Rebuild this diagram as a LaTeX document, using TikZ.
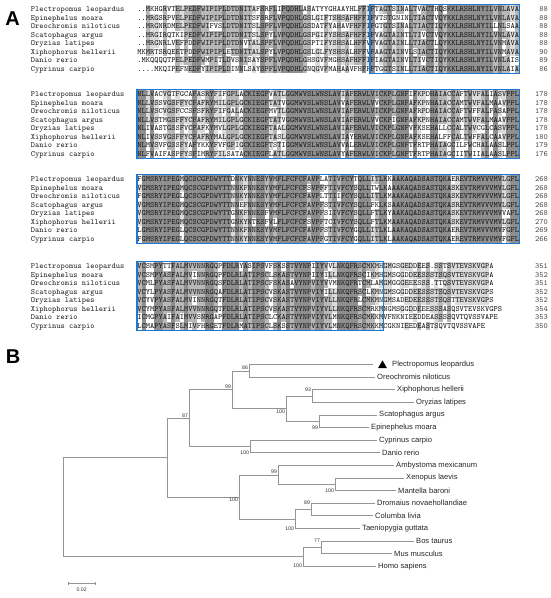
\documentclass[tikz,border=0pt]{standalone}
\usepackage{fontspec}
\setmainfont{Liberation Sans}
\usetikzlibrary{positioning}
\usetikzlibrary{shapes.geometric}
\definecolor{alnblue}{RGB}{28,122,214}
\definecolor{shadedark}{gray}{0.56}
\definecolor{shademid}{gray}{0.72}
\definecolor{shadelight}{gray}{0.86}
\definecolor{treegray}{gray}{0.58}

\ExplSyntaxOn
\int_new:N \l_aln_count_int
\tl_new:N \l_aln_cur_tl
\tl_new:N \l_aln_fill_tl
\tl_new:N \l_aln_x_tl
\tl_new:N \l_aln_y_tl
\int_step_inline:nn {8} { \tl_new:c {l_aln_ch_#1_tl} }
\NewDocumentCommand{\SetSeq}{mmm}{ \str_gset:cn {g_aln_#1_#2_str} {#3} }
\NewDocumentCommand{\SeqText}{mm}{ \str_map_inline:cn {g_aln_#1_#2_str} { \makebox[4.24pt][c]{##1} } }
\cs_new_protected:Npn \aln_shade_col:nnn #1#2#3
  {
    \int_step_inline:nn {8}
      { \tl_set:cx {l_aln_ch_##1_tl} { \str_item:cn {g_aln_#1_##1_str} {#2} } }
    \tl_set:Nx \l_aln_x_tl { \fp_eval:n { 137.3 + (#2 - 1) * 4.24 } }
    \int_step_inline:nn {8}
      {
        \tl_set_eq:Nc \l_aln_cur_tl {l_aln_ch_##1_tl}
        \int_zero:N \l_aln_count_int
        \tl_if_empty:NF \l_aln_cur_tl
          {
            \str_if_eq:VnF \l_aln_cur_tl {.}
              {
                \int_step_inline:nn {8}
                  { \tl_if_eq:cNT {l_aln_ch_####1_tl} \l_aln_cur_tl { \int_incr:N \l_aln_count_int } }
              }
          }
        \tl_clear:N \l_aln_fill_tl
        \int_compare:nNnTF \l_aln_count_int = 8
          { \tl_set:Nn \l_aln_fill_tl {shadedark} }
          {
            \int_compare:nNnTF \l_aln_count_int > 5
              { \tl_set:Nn \l_aln_fill_tl {shademid} }
              { \int_compare:nNnT \l_aln_count_int > 3 { \tl_set:Nn \l_aln_fill_tl {shadelight} } }
          }
        \tl_if_empty:NF \l_aln_fill_tl
          {
            \tl_set:Nx \l_aln_y_tl { \fp_eval:n { #3 + (##1 - 1) * 8.5 - 4.25 } }
            \fill [fill = \l_aln_fill_tl] (\l_aln_x_tl, \l_aln_y_tl) rectangle ++ (4.24, 8.5);
          }
      }
  }
\NewDocumentCommand{\ShadeBlock}{mm}{ \int_step_inline:nn {90} { \aln_shade_col:nnn {#1} {##1} {#2} } }
\ExplSyntaxOff

% block 1
\SetSeq{1}{1}{..MKHGRVTELPEDFWIPIPLDTDNITAFSRFLIPQDHLASATYYGHAAYHLFFIFTAGTSINALTVACTHQSKKLRSHLNYILVNLAVA}
\SetSeq{1}{2}{..MRGSRPVELPEDFWIPIPLDTDNITSFSRFLVPQDHLGSLGIFTSHSAFHFFIFVTSTGNINLTIACTVQYKKLRSHLNYILVNLAVA}
\SetSeq{1}{3}{..MRGNRDMELPEDFWIFVSLDTDNITSLSPFLVPQDHLGSDATFYAHAVFHFFIFGTGTSINALTIACTIQYKKLRSHLNYILLNLSAA}
\SetSeq{1}{4}{..MRGIRQTKIPEDFWIPIPLDTDNITSLSPYLVPQDHLGSPGIFYSHSAFHFFIFVAGTAINTLTIVCTVQYKKLRSHLNYILVNLAVA}
\SetSeq{1}{5}{..MRGNRLVEFPDDFWIPIPLDTDNVTALSPFLVPQDHLGSPTIFYSHSALHFFVFVAGTAINLLTIACTLQYKKLRSHLNYILVNMAVA}
\SetSeq{1}{6}{MKMRTSRQEETPDDFWIPIPLETDNITALSPYLVPQDHLGSLGLFYSHSALHFFVFAAGTAINVLSIACTIQYKKLRSHLNYILVNMAVA}
\SetSeq{1}{7}{.MKQQQQTPELPEDFWMPITLDVSNISAYSPFLVPQDHLGHSGVFMGHSAFHFFIFIAGTAINVLTIVCTIQYKKLRSHLNYILVNLAIS}
\SetSeq{1}{8}{....MKQIPEFNEDFYIPIPLDINNLSAYSPFLVPQDHLGNQGVFMAHAAVFHFFFTGGTSINLLTIACTIQYKKLRSHLNYILVNLAIA}
% block 2
\SetSeq{2}{1}{NLLVACVGTFGCAFASRYFIFGPLACKIEGFVATLGGMWVSLWNSLAVIAFERWLVICKPLGNFIFKPDHAIACCAFTWVFALIASVPPL}
\SetSeq{2}{2}{NLLVSSVGSFFYCFAFRYMILGPLGCKIEGFTATVGGMWVSLWNSLAVVAFERWLVVCKPLGNFAFKPNHAIACCAMTWVFALMAAVPPL}
\SetSeq{2}{3}{NLLVSCVGSFCCSFSFRYFIFGALACKIEGFMVTLGGMWVSLWNSLAVIAFERWLVICKPLGNFAFRPDHAIACCAFTWFFALFASAPPL}
\SetSeq{2}{4}{NLLVSTMGSFFYCFAFRYMILGPLGCKIEGFTATVGGMWVSLWNSLAVIAFERWLVVCKPIGNFAFKPNHAIACCAMTWVFALMAAVPPL}
\SetSeq{2}{5}{NLIVASTGSSFVCFAFKYMVLGPLGCKIEGFTAALGGMWVSLWNSLAVIAFERWLVICKPLGNFVFKSEHALLCCALTWVCGLCASVPPL}
\SetSeq{2}{6}{NLIVSSVGSFFYCFAFRYMALGPLGCKIEGFTASLGGMWVSLWNSLAVIAYERWLVICKPLGNFAFKSEHALFFCALTWFFALCAAVPPL}
\SetSeq{2}{7}{NLMVSVFGSSFYAFYKKYFVFGPIGCKIEGFTSTIGGMWVSLWNSLAVVALERWLVICKPLGNFTFRTPHAIAGCILFWCHALAASLPPL}
\SetSeq{2}{8}{NLFVAIFASPFYSFIMRYFILSATACKIEGFLATLGGMWVSLWNSLAVYAFERWLVICKPLGNFTFRTPHAIAGCIITWIIALAASLPPL}
% block 3
\SetSeq{3}{1}{FGMSRYIPEGMQCSCGPDWYTTDNKYNNESYVMFLFCFCFAVPLATIVFCYTQLLITLKKAAKAQADSASTQKAEREVTRMVVVMVLGFL}
\SetSeq{3}{2}{VGMSRYIPEGMQCSCGPDWYTTNNKFNNESYVMFLFCFCFSVPFFTIVFCYSQLLTWLKAAAKAQADSASTQKASKEVTRMVVVMVLGFL}
\SetSeq{3}{3}{FGMSRYIPEGLQCSCGPDWYTTNNKYNNESYVMFLFCFCFAVPLTTIIFCYSQLLITLKMAAKAQADSASTQKASKEVTRMVVVMVLGFL}
\SetSeq{3}{4}{VGMSRYIPEGMQCSCGPDWYTTNNEFNNESYVMFLFCFCFAVPFSTIVFCYSQLLFKLKSAAKAQADSASTQKASREVTRMVVVMVLGFL}
\SetSeq{3}{5}{VGMSRYIPEGMQCSCGPDWYTTGNKFNNESFVMFLFCFCFAVPFSIIVFCYSQLLFTLKYAAKAQADSASTQKASKEVTRMVVVMVVAFL}
\SetSeq{3}{6}{VGMSRYIPEGMQCSCGPDWYTTGNKYNTESFVLFLFCFCFSVPFTCIVFCYSQLLFTLKMAAKAQADSASTQKASKEVTRMVVVMVLGFL}
\SetSeq{3}{7}{LGMSRYIPEGLQCSCGPDWYTTNNKFNNESYVMFLFCFCFAVPFSTIVFCYGQLLITLKLAAKAQADSASTQKAEREVTRMVVVMVFGFL}
\SetSeq{3}{8}{FGMSRYIPEGLQCSCGPDWYTTNNKYNNESYVMFLFCFCFAVPFGTIVFCYGQLLITLKLAAKAQADSASTQKAEREVTRMVVVMVFGFL}
% block 4
\SetSeq{4}{1}{VCSMPYTTFALMVVNNRGQPFDLRYASIPSVFSKSSTVYNPIIYVVLNKQFRSCMKMHGMGSGEDDEES.SSTSVTEVSKVGPA}
\SetSeq{4}{2}{VCSMPYASFALMVINNRGQPFDLRLATIPSCLSKASTVYNPIIYILLNKQFRSCIKMHGMSGGDDEESSSTSQSVTEVSKVGPA}
\SetSeq{4}{3}{VCMLPYASFALMVVNNRGQSFDLRLATIPSCFSKASAVYNPVIYVVMNKQFRTCMLAMGMGGGEEESSS.TTQSVTEVSKVGPA}
\SetSeq{4}{4}{VCYLPYASFALMVVNNRGQAFDLRLATIPSCVSKASTVYNPVIYILLNKQFRSCLKMNGMSGGDDEESSSTSQSVTEVSKVGPS}
\SetSeq{4}{5}{VCYVPYASFALMVINNRGQTFDLRLATIPSCVSKASTVYNPVIYVLLNKQFRLCMKMNGMSADEDEESSSTSQSTTEVSKVGPS}
\SetSeq{4}{6}{VCYMPYASFALMVVNNRGQTFDLRLATIPSCVSKASTVYNPVIYVLLNKQFRSCMRKMNGMSGGDDEEESSSASQSVTEVSKVGPS}
\SetSeq{4}{7}{ICMGPYAIFAIMVVSNRGAPFDLRLATIPSCLCKASTVYNPVIYVLMNKQFRSCMKKMVFNKNIEEDDEASSSSQVTQVSSVAPE}
\SetSeq{4}{8}{LCMAPYASFSLMIVFHRGETFDLRMATIPSCLSKSSTVYNPVIYVLMNKQFRSCMKKMCGKNIEEDEASTSQVTQVSSVAPE}

\begin{document}
\begin{tikzpicture}[x=1pt,y=-1pt]
  \tikzset{SeqName/.style = {
    anchor     = base west,
    inner sep  = 0pt,
    font       = \ttfamily\fontsize{8}{8}\selectfont,
    text       = black!85
    }
  }
  \tikzset{SeqRow/.style = {
    anchor     = base west,
    inner sep  = 0pt,
    font       = \ttfamily\fontsize{8}{8}\selectfont,
    text       = black!90
    }
  }
  \tikzset{SeqNum/.style = {
    anchor     = base east,
    inner sep  = 0pt,
    font       = \ttfamily\fontsize{8}{8}\selectfont,
    text       = black!70
    }
  }
  \tikzset{AlnBox/.style = {
    draw       = alnblue,
    line width = 1.3pt
    }
  }
  \tikzset{Panel/.style = {
    font       = \fontsize{20}{20}\selectfont\bfseries,
    inner sep  = 0pt
    }
  }
  \tikzset{Branch/.style = {
    draw       = treegray,
    line width = 0.8pt
    }
  }
  \tikzset{Leaf/.style = {
    anchor     = west,
    inner sep  = 2pt,
    font       = \fontsize{7.6}{9}\selectfont,
    text       = black!85
    }
  }
  \tikzset{Boot/.style = {
    font       = \fontsize{5.2}{6}\selectfont,
    inner sep  = 0.8pt,
    text       = black!80
    }
  }

  \useasboundingbox (0,0) rectangle (550,598);

  % A: alignment
  \node[Panel](labA) at (12.5, 19) {A};

  \ShadeBlock{1}{9.3}
  \ShadeBlock{2}{94.3}
  \ShadeBlock{3}{179.3}
  \ShadeBlock{4}{266.3}

  \foreach \b/\yb/\nums in {1/9.3/{88,88,88,88,88,90,89,86},
                            2/94.3/{178,178,178,178,178,180,179,176},
                            3/179.3/{268,268,268,268,268,270,269,266},
                            4/266.3/{351,352,351,352,352,354,353,350}} {
    \foreach \nm [count=\r] in {Plectropomus leopardus, Epinephelus moara,
        Oreochromis niloticus, Scatophagus argus, Oryzias latipes,
        Xiphophorus hellerii, Danio rerio, Cyprinus carpio} {
      \pgfmathsetmacro\ybase{\yb+(\r-1)*8.5+2.45}
      \node[SeqName](name\b\r) at (30.7, \ybase) {\nm};
      \node[SeqRow](seq\b\r) at (137.3, \ybase) {\SeqText{\b}{\r}};
    }
    \foreach \n [count=\r] in \nums {
      \pgfmathsetmacro\ybase{\yb+(\r-1)*8.5+2.45}
      \node[SeqNum](num\b\r) at (548, \ybase) {\n};
    }
  }

  \draw[AlnBox] (370.1, 4.65) rectangle (519.3, 73.45);
  \draw[AlnBox] (136.9, 89.65) rectangle (519.3, 158.45);
  \draw[AlnBox] (136.9, 174.65) rectangle (519.3, 243.45);
  \draw[AlnBox] (136.9, 261.65) rectangle (383.6, 330.45);

  % B: tree
  \node[Panel](labB) at (13, 357) {B};

  \node[Leaf](plec) at (390, 364.6) {Plectropomus leopardus};
  \node[Leaf](oreo) at (375, 377.2) {Oreochromis niloticus};
  \node[Leaf](xiph) at (395, 389.8) {Xiphophorus hellerii};
  \node[Leaf](oryz) at (414, 402.4) {Oryzias latipes};
  \node[Leaf](scat) at (377, 415.0) {Scatophagus argus};
  \node[Leaf](epin) at (369, 427.6) {Epinephelus moara};
  \node[Leaf](cypr) at (377, 440.2) {Cyprinus carpio};
  \node[Leaf](dani) at (380, 452.8) {Danio rerio};
  \node[Leaf](amby) at (394, 465.4) {Ambystoma mexicanum};
  \node[Leaf](xeno) at (404, 478.0) {Xenopus laevis};
  \node[Leaf](mant) at (396, 490.6) {Mantella baroni};
  \node[Leaf](drom) at (375, 503.2) {Dromaius novaehollandiae};
  \node[Leaf](colu) at (373, 515.8) {Columba livia};
  \node[Leaf](taen) at (360, 528.4) {Taeniopygia guttata};
  \node[Leaf](bost) at (414, 541.0) {Bos taurus};
  \node[Leaf](musm) at (392, 553.6) {Mus musculus};
  \node[Leaf](homo) at (376, 566.2) {Homo sapiens};

  \node[regular polygon, regular polygon sides=3, fill=black, inner sep=0pt,
        minimum size=10.5pt](mark) at (382.5, 365.6) {};
  \coordinate (plecend) at (373, 364.6);

  \coordinate (root)  at (63, 507.2);
  \coordinate (nA)    at (167, 457.6);
  \coordinate (n87)   at (189, 418.2);
  \coordinate (n99a)  at (232, 389.8);
  \coordinate (n86)   at (249, 370.9);
  \coordinate (n100a) at (286, 408.7);
  \coordinate (n93)   at (312, 396.1);
  \coordinate (n99b)  at (319, 421.3);
  \coordinate (n100c) at (250, 446.5);
  \coordinate (n100b) at (239, 497.0);
  \coordinate (n99c)  at (278, 474.9);
  \coordinate (n100d) at (335, 484.3);
  \coordinate (n100e) at (295, 519.0);
  \coordinate (n89)   at (311, 509.5);
  \coordinate (n100f) at (303, 556.8);
  \coordinate (n77)   at (321, 547.3);

  \draw[Branch] (root) |- (nA);
  \draw[Branch] (root) |- (n100f);
  \draw[Branch] (nA) |- (n87);
  \draw[Branch] (nA) |- (n100b);
  \draw[Branch] (n87) |- (n99a);
  \draw[Branch] (n87) |- (n100c);
  \draw[Branch] (n99a) |- (n86);
  \draw[Branch] (n99a) |- (n100a);
  \draw[Branch] (n86) |- (plecend);
  \draw[Branch] (n86) |- (oreo.west);
  \draw[Branch] (n100a) |- (n93);
  \draw[Branch] (n100a) |- (n99b);
  \draw[Branch] (n93) |- (xiph.west);
  \draw[Branch] (n93) |- (oryz.west);
  \draw[Branch] (n99b) |- (scat.west);
  \draw[Branch] (n99b) |- (epin.west);
  \draw[Branch] (n100c) |- (cypr.west);
  \draw[Branch] (n100c) |- (dani.west);
  \draw[Branch] (n100b) |- (n99c);
  \draw[Branch] (n100b) |- (n100e);
  \draw[Branch] (n99c) |- (amby.west);
  \draw[Branch] (n99c) |- (n100d);
  \draw[Branch] (n100d) |- (xeno.west);
  \draw[Branch] (n100d) |- (mant.west);
  \draw[Branch] (n100e) |- (n89);
  \draw[Branch] (n100e) |- (taen.west);
  \draw[Branch] (n89) |- (drom.west);
  \draw[Branch] (n89) |- (colu.west);
  \draw[Branch] (n100f) |- (n77);
  \draw[Branch] (n100f) |- (homo.west);
  \draw[Branch] (n77) |- (bost.west);
  \draw[Branch] (n77) |- (musm.west);

  \node[Boot, above left] (b86)   at (n86)   {86};
  \node[Boot, above left] (b99a)  at (n99a)  {99};
  \node[Boot, above left] (b87)   at (n87)   {87};
  \node[Boot, anchor=east] (b100c) at (n100c |- dani.west) {100};
  \node[Boot, below left] (b100a) at (n100a) {100};
  \node[Boot, anchor=east] (b93)   at (n93 |- xiph.west) {93};
  \node[Boot, anchor=east] (b99b)  at (n99b |- epin.west) {99};
  \node[Boot, below left] (b100b) at (n100b) {100};
  \node[Boot, above left] (b99c)  at (n99c)  {99};
  \node[Boot, anchor=east] (b100d) at (n100d |- mant.west) {100};
  \node[Boot, anchor=east] (b89)   at (n89 |- drom.west) {89};
  \node[Boot, anchor=east] (b100e) at (n100e |- taen.west) {100};
  \node[Boot, anchor=east] (b77)   at (n77 |- bost.west) {77};
  \node[Boot, anchor=east] (b100f) at (n100f |- homo.west) {100};

  % scale bar
  \coordinate (sbl) at (68.3, 583);
  \coordinate (sbr) at (95, 583);
  \coordinate (sbm) at (81.6, 583);
  \draw[Branch, line width=0.6pt] (sbl) -- (sbr);
  \draw[Branch, line width=0.6pt] ([yshift=1.5pt]sbl) -- ([yshift=-1.5pt]sbl);
  \draw[Branch, line width=0.6pt] ([yshift=1.5pt]sbr) -- ([yshift=-1.5pt]sbr);
  \node[Boot, below=4pt of sbm] (sblab) {0.02};
\end{tikzpicture}
\end{document}
